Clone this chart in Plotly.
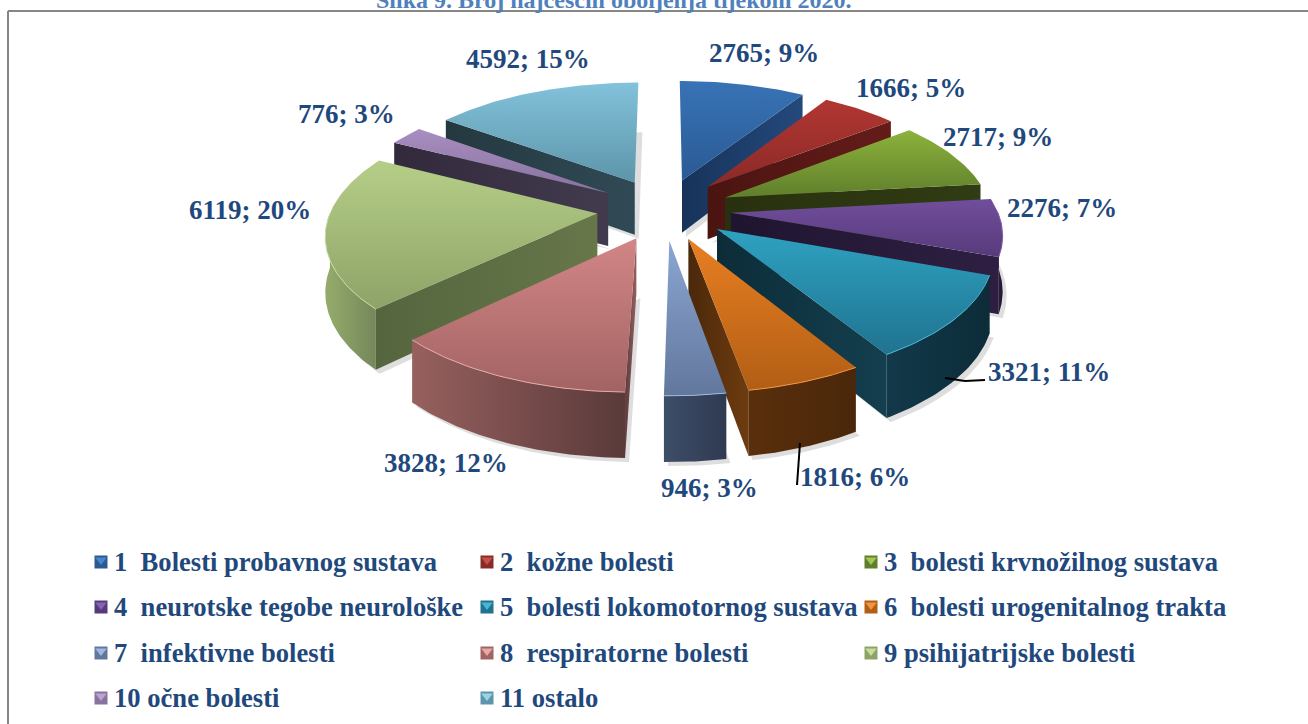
import math
import numpy as np
import plotly.graph_objects as go

categories = ["1\u00a0\u00a0Bolesti probavnog sustava", "2\u00a0\u00a0kožne bolesti", "3\u00a0\u00a0bolesti krvnožilnog sustava",
              "4\u00a0\u00a0neurotske tegobe neurološke", "5\u00a0\u00a0bolesti lokomotornog sustava", "6\u00a0\u00a0bolesti urogenitalnog trakta",
              "7\u00a0\u00a0infektivne bolesti", "8\u00a0\u00a0respiratorne bolesti", "9 psihijatrijske bolesti",
              "10 očne bolesti", "11 ostalo"]
values = [2765, 1666, 2717, 2276, 3321, 1816, 946, 3828, 6119, 776, 4592]
title_text = "Slika 9. Broj najčešćih oboljenja tijekom 2020."

top_light = ["#3873B6", "#B23632", "#8DB23B", "#714E9C", "#2FA2C1", "#E87F22", "#8BA6D3", "#D28686", "#B5CE87", "#A88EC1", "#82C2DA"]
top_dark = ["#2A5A94", "#8A2A27", "#5F7F2C", "#573A7B", "#1F7390", "#B25E15", "#62779C", "#A36363", "#8EA368", "#88729E", "#5D95AA"]
side_light = ["#24497C", "#651C19", "#303C13", "#2E1F42", "#143F4E", "#6E3C10", "#3E4E69", "#96605E", "#67774A", "#423A4D", "#304A55"]
side_dark = ["#17335A", "#4A1411", "#28310F", "#1F1530", "#0C2C38", "#4A280A", "#2E3A50", "#5A3A3A", "#55653E", "#322A3C", "#24383F"]
arc_light = ["#24497C", "#651C19", "#303C13", "#2E1F42", "#12394A", "#5A2F0C", "#3E4E69", "#96605E", "#96AC6C", "#423A4D", "#304A55"]
arc_dark = ["#17335A", "#4A1411", "#28310F", "#1F1530", "#0C2C38", "#4A270A", "#2E3A50", "#5A3A3A", "#74875A", "#322A3C", "#24383F"]
rim = ["#4A85C8", "#C4504B", "#A3C655", "#8563B0", "#48B6D2", "#F09540", "#A0B8E0", "#E8A8A8", "#C8DC9E", "#BAA2D2", "#9AD2E6"]

label_pos = [(764, 53), (911, 88), (998, 137), (1062, 208), (1049, 372), (855, 477),
             (709, 488), (446, 463), (250, 210), (346, 114), (528, 59)]
legend_rows = [562, 607, 653, 698]
legend_cols = [101, 487, 871]

CX, CY, R, EXPL, B, P, H = 664, 209, 266, 67, 0.458, 0.000553, 54
FONT = "Liberation Serif"
TEXT = "#1F497D"


def proj(X, Y, drop=0.0):
    s = 1 / (1 - P * Y)
    return CX + X * s, CY + (B * Y + drop) * s


def pt(t, r, mid, drop=0.0):
    a, m = math.radians(t), math.radians(mid)
    X = EXPL * math.sin(m) + r * math.sin(a)
    Y = -(EXPL * math.cos(m) + r * math.cos(a))
    return proj(X, Y, drop)


def grad(kind, c1, c2):
    return dict(type=kind, colorscale=[[0, c1], [1, c2]])


fig = go.Figure()


def poly(pts, fillcolor=None, gradient=None):
    xs = [p[0] for p in pts] + [pts[0][0]]
    ys = [p[1] for p in pts] + [pts[0][1]]
    kw = dict(fillgradient=gradient) if gradient else dict(fillcolor=fillcolor)
    fig.add_trace(go.Scatter(x=xs, y=ys, mode="lines", fill="toself", line=dict(width=0),
                             hoverinfo="skip", showlegend=False, **kw))


total = sum(values)
bounds = np.cumsum([0] + values) / total * 360
order = sorted(range(len(values)), key=lambda i: -math.cos(math.radians((bounds[i] + bounds[i + 1]) / 2)))

for i in order:
    t0, t1 = float(bounds[i]), float(bounds[i + 1])
    mid = (t0 + t1) / 2
    arc = np.linspace(t0, t1, max(int(t1 - t0) + 2, 4))
    apex = pt(0, 0, mid)
    apex_b = pt(0, 0, mid, H)

    # soft shadow below the wedge
    sh = [pt(0, 0, mid, H)] + [pt(float(t), R, mid, H) for t in arc]
    poly([(x + 4, y + 4) for x, y in sh], fillcolor="rgba(0,0,0,0.13)")

    # visible side faces
    if 180 < t0 < 360:
        poly([apex, pt(t0, R, mid), pt(t0, R, mid, H), apex_b],
             gradient=grad("horizontal", side_dark[i], side_light[i]))
    if 0 < t1 < 180:
        poly([apex, pt(t1, R, mid), pt(t1, R, mid, H), apex_b],
             gradient=grad("horizontal", side_dark[i], side_light[i]))
    a0, a1 = max(t0, 90.0), min(t1, 270.0)
    if a1 > a0:
        sub = np.linspace(a0, a1, max(int(a1 - a0) + 2, 4))
        face = [pt(float(t), R, mid) for t in sub] + [pt(float(t), R, mid, H) for t in sub[::-1]]
        poly(face, gradient=grad("horizontal", arc_light[i], arc_dark[i]))

    # top face
    poly([apex] + [pt(float(t), R, mid) for t in arc],
         gradient=grad("vertical", top_dark[i], top_light[i]))
    # lit rim
    if a1 > a0:
        sub = np.linspace(a0, a1, max(int(a1 - a0) + 2, 4))
        rp = [pt(float(t), R, mid) for t in sub]
        fig.add_trace(go.Scatter(x=[p[0] for p in rp], y=[p[1] for p in rp], mode="lines",
                                 line=dict(width=1, color=rim[i]), hoverinfo="skip", showlegend=False))

# legend swatches
for i in range(len(values)):
    lx = legend_cols[i % 3]
    ly = legend_rows[i // 3]
    fig.add_trace(go.Scatter(x=[lx], y=[ly], mode="markers", hoverinfo="skip", showlegend=False,
                             marker=dict(symbol="square", size=13, color=top_dark[i], line=dict(width=0))))
    fig.add_trace(go.Scatter(x=[lx], y=[ly - 2], mode="markers", hoverinfo="skip", showlegend=False,
                             marker=dict(symbol="triangle-down", size=10, color=rim[i], line=dict(width=0))))
    fig.add_annotation(x=lx + 11, y=ly, text=categories[i], showarrow=False, xanchor="left", yanchor="middle",
                       font=dict(family=FONT, size=26.6, color=TEXT))

# data labels
for v, (lx, ly) in zip(values, label_pos):
    fig.add_annotation(x=lx, y=ly, text=f"{v}; {round(v / total * 100)}%", showarrow=False,
                       font=dict(family=FONT, size=27, color=TEXT))

fig.add_annotation(x=614, y=3, yshift=3, text=title_text, showarrow=False,
                   font=dict(family=FONT, size=24, color="#4F81BD"))

fig.update_traces(cliponaxis=False)
for a in fig.layout.annotations:
    a.text = f"<b>{a.text}</b>"

fig.update_layout(
    width=1308, height=724, margin=dict(l=0, r=0, t=0, b=0),
    paper_bgcolor="white", plot_bgcolor="white", showlegend=False,
    xaxis=dict(range=[0, 1308], visible=False, fixedrange=True),
    yaxis=dict(range=[724, 0], visible=False, fixedrange=True),
    shapes=[
        dict(type="line", x0=8, x1=1308, y0=11, y1=11, line=dict(color="#868686", width=2)),
        dict(type="line", x0=8, x1=8, y0=11, y1=724, line=dict(color="#868686", width=2)),
        dict(type="line", x0=945, y0=378, x1=965, y1=381, line=dict(color="black", width=2)),
        dict(type="line", x0=965, y0=381, x1=985, y1=380, line=dict(color="black", width=2)),
        dict(type="line", x0=800, y0=443, x1=797, y1=485, line=dict(color="black", width=2)),
    ],
)
fig.write_html("out.html", config=dict(displayModeBar=False),
               post_script="document.body.style.margin='0';document.body.style.overflow='hidden';")
